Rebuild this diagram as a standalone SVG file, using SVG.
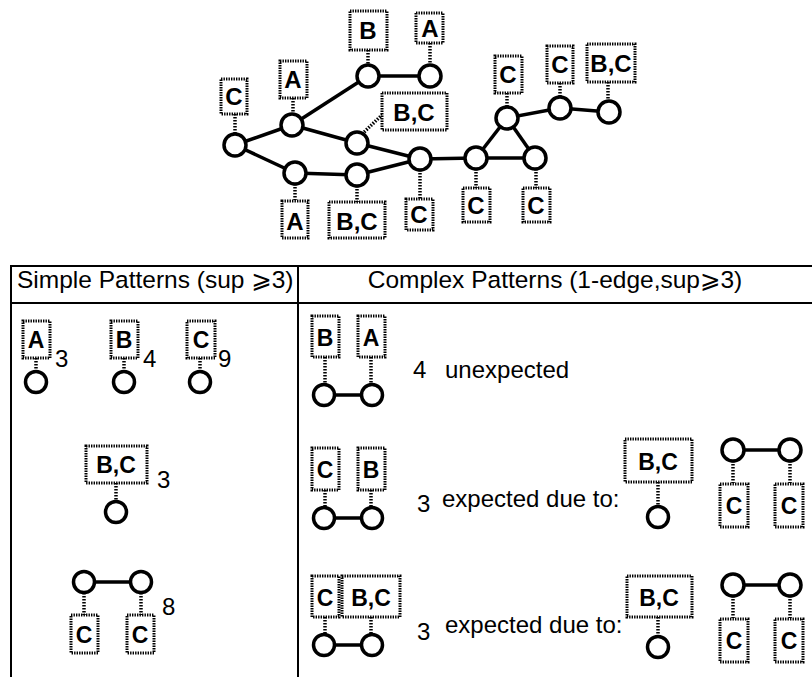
<svg xmlns="http://www.w3.org/2000/svg" width="812" height="677" viewBox="0 0 812 677">
<style>
.n{fill:#fff;stroke:#000;stroke-width:3.5}
.e{stroke:#000;stroke-width:3.5;fill:none}
.lb{fill:#fff;stroke:#000;stroke-width:3;stroke-dasharray:1.4 1.1}
.lk{stroke:#000;stroke-width:3.5;stroke-dasharray:1.5 1.5;fill:none}
.t{font-family:"Liberation Sans",Arial,sans-serif;font-weight:bold;font-size:23px;text-anchor:middle}
.tl{font-family:"Liberation Sans",Arial,sans-serif;font-weight:bold;font-size:24px;text-anchor:middle}
.h{font-family:"Liberation Sans",Arial,"DejaVu Sans",sans-serif;font-size:24.5px}
.b{font-family:"Liberation Sans",Arial,sans-serif;font-size:24px}
.tb{stroke:#000;stroke-width:2;fill:none}
</style>
<rect width="812" height="677" fill="#fff"/>

<!-- table -->
<g id="table">
<path class="tb" d="M11,677 V266 H812 M11,303 H812 M298,266 V677"/>
<text class="h" x="17" y="288">Simple Patterns (sup ⩾3)</text>
<text class="h" x="555" y="288" text-anchor="middle">Complex Patterns (1-edge,sup⩾3)</text>
</g>

<!-- connectors -->
<g id="connectors">
<line class="e" x1="235" y1="145" x2="292" y2="125"/>
<line class="e" x1="235" y1="145" x2="295" y2="173"/>
<line class="e" x1="292" y1="125" x2="368" y2="76"/>
<line class="e" x1="292" y1="125" x2="357" y2="143"/>
<line class="e" x1="368" y1="76" x2="430" y2="76"/>
<line class="e" x1="357" y1="143" x2="420" y2="159"/>
<line class="e" x1="295" y1="173" x2="357" y2="175"/>
<line class="e" x1="357" y1="175" x2="420" y2="159"/>
<line class="e" x1="420" y1="159" x2="476" y2="158"/>
<line class="e" x1="476" y1="158" x2="535" y2="158"/>
<line class="e" x1="476" y1="158" x2="507" y2="118"/>
<line class="e" x1="535" y1="158" x2="507" y2="118"/>
<line class="e" x1="507" y1="118" x2="560" y2="108"/>
<line class="e" x1="560" y1="108" x2="609" y2="112"/>
<!-- dotted links top graph -->
<line class="lk" x1="235" y1="114" x2="235" y2="134"/>
<line class="lk" x1="293" y1="98" x2="293" y2="114"/>
<line class="lk" x1="368" y1="50" x2="368" y2="65"/>
<line class="lk" x1="430" y1="43" x2="430" y2="65"/>
<line class="lk" x1="362" y1="134" x2="383" y2="114"/>
<line class="lk" x1="295" y1="184" x2="295" y2="200"/>
<line class="lk" x1="357" y1="186" x2="357" y2="202"/>
<line class="lk" x1="420" y1="170" x2="420" y2="199"/>
<line class="lk" x1="476" y1="169" x2="476" y2="188"/>
<line class="lk" x1="536" y1="169" x2="536" y2="188"/>
<line class="lk" x1="507" y1="93" x2="507" y2="107"/>
<line class="lk" x1="560" y1="83" x2="560" y2="97"/>
<line class="lk" x1="608" y1="82" x2="608" y2="101"/>
<!-- simple patterns -->
<line class="lk" x1="36" y1="358" x2="36" y2="371"/>
<line class="lk" x1="124" y1="358" x2="124" y2="371"/>
<line class="lk" x1="200" y1="358" x2="200" y2="371"/>
<line class="lk" x1="116" y1="483" x2="116" y2="501"/>
<line class="e" x1="84" y1="582" x2="141" y2="582"/>
<line class="lk" x1="84" y1="593" x2="84" y2="615"/>
<line class="lk" x1="141" y1="593" x2="141" y2="615"/>
<!-- complex row 1 -->
<line class="e" x1="324" y1="395" x2="372" y2="395"/>
<line class="lk" x1="325" y1="357" x2="325" y2="384"/>
<line class="lk" x1="371" y1="357" x2="371" y2="384"/>
<!-- complex row 2 -->
<line class="e" x1="324" y1="518" x2="372" y2="518"/>
<line class="lk" x1="325" y1="490" x2="325" y2="507"/>
<line class="lk" x1="371" y1="490" x2="371" y2="507"/>
<line class="lk" x1="658" y1="482" x2="658" y2="506"/>
<line class="e" x1="733" y1="450" x2="790" y2="450"/>
<line class="lk" x1="733" y1="461" x2="733" y2="483"/>
<line class="lk" x1="790" y1="461" x2="790" y2="483"/>
<!-- complex row 3 -->
<line class="e" x1="324" y1="645" x2="372" y2="645"/>
<line class="lk" x1="325" y1="617" x2="325" y2="634"/>
<line class="lk" x1="371" y1="617" x2="371" y2="634"/>
<line class="lk" x1="658" y1="617" x2="658" y2="636"/>
<line class="e" x1="733" y1="585" x2="790" y2="585"/>
<line class="lk" x1="733" y1="596" x2="733" y2="618"/>
<line class="lk" x1="790" y1="596" x2="790" y2="618"/>
</g>

<!-- top graph nodes -->
<g id="g1"><circle class="n" cx="235" cy="145" r="11"/><rect class="lb" x="221" y="79" width="26" height="35"/><text class="tl" x="234" y="105">C</text></g>
<g id="g2"><circle class="n" cx="292" cy="125" r="11"/><rect class="lb" x="280" y="61" width="27" height="37"/><text class="tl" x="293" y="88">A</text></g>
<g id="g3"><circle class="n" cx="368" cy="76" r="11"/><rect class="lb" x="350" y="11" width="37" height="39"/><text class="tl" x="368" y="39">B</text></g>
<g id="g4"><circle class="n" cx="430" cy="76" r="11"/><rect class="lb" x="416" y="13" width="27" height="30"/><text class="tl" x="430" y="37">A</text></g>
<g id="g5"><circle class="n" cx="357" cy="143" r="11"/><rect class="lb" x="382" y="93" width="65" height="37"/><text class="tl" x="414" y="121">B,C</text></g>
<g id="g6"><circle class="n" cx="295" cy="173" r="11"/><rect class="lb" x="282" y="201" width="26" height="37"/><text class="tl" x="295" y="230">A</text></g>
<g id="g7"><circle class="n" cx="357" cy="175" r="11"/><rect class="lb" x="329" y="202" width="56" height="36"/><text class="tl" x="357" y="230">B,C</text></g>
<g id="g8"><circle class="n" cx="420" cy="159" r="11"/><rect class="lb" x="406" y="199" width="27" height="31"/><text class="tl" x="419" y="223">C</text></g>
<g id="g9"><circle class="n" cx="476" cy="158" r="11"/><rect class="lb" x="463" y="188" width="27" height="34"/><text class="tl" x="476" y="214">C</text></g>
<g id="g10"><circle class="n" cx="535" cy="158" r="11"/><rect class="lb" x="523" y="188" width="27" height="34"/><text class="tl" x="536" y="214">C</text></g>
<g id="g11"><circle class="n" cx="507" cy="118" r="11"/><rect class="lb" x="495" y="56" width="27" height="37"/><text class="tl" x="508" y="83">C</text></g>
<g id="g12"><circle class="n" cx="560" cy="108" r="11"/><rect class="lb" x="547" y="46" width="26" height="37"/><text class="tl" x="560" y="73">C</text></g>
<g id="g13"><circle class="n" cx="609" cy="112" r="11"/><rect class="lb" x="587" y="44" width="48" height="38"/><text class="tl" x="611" y="72">B,C</text></g>

<!-- simple patterns -->
<g id="sA"><circle class="n" cx="36" cy="382" r="10.5"/><rect class="lb" x="23" y="321" width="27" height="37"/><text class="t" x="36" y="348">A</text><text class="b" x="55" y="367">3</text></g>
<g id="sB"><circle class="n" cx="124" cy="382" r="10.5"/><rect class="lb" x="111" y="321" width="27" height="37"/><text class="t" x="124" y="348">B</text><text class="b" x="143" y="367">4</text></g>
<g id="sC"><circle class="n" cx="200" cy="382" r="10.5"/><rect class="lb" x="187" y="321" width="28" height="37"/><text class="t" x="201" y="348">C</text><text class="b" x="218" y="367">9</text></g>
<g id="sBC"><circle class="n" cx="116" cy="512" r="10.5"/><rect class="lb" x="86" y="446" width="61" height="37"/><text class="t" x="116" y="473">B,C</text><text class="b" x="157" y="488">3</text></g>
<g id="sCC"><circle class="n" cx="84" cy="582" r="10.5"/><circle class="n" cx="141" cy="582" r="10.5"/><rect class="lb" x="71" y="615" width="27" height="38"/><text class="t" x="84" y="643">C</text><rect class="lb" x="127" y="615" width="27" height="38"/><text class="t" x="140" y="643">C</text><text class="b" x="162" y="615">8</text></g>

<!-- complex row 1 -->
<g id="c1"><circle class="n" cx="324" cy="395" r="10.5"/><circle class="n" cx="372" cy="395" r="10.5"/><rect class="lb" x="312" y="316" width="27" height="41"/><text class="t" x="325" y="346">B</text><rect class="lb" x="358" y="316" width="27" height="41"/><text class="t" x="371" y="346">A</text><text class="b" x="413" y="378">4</text><text class="b" x="445" y="378">unexpected</text></g>
<!-- complex row 2 -->
<g id="c2"><circle class="n" cx="324" cy="518" r="10.5"/><circle class="n" cx="372" cy="518" r="10.5"/><rect class="lb" x="312" y="448" width="27" height="42"/><text class="t" x="325" y="478">C</text><rect class="lb" x="358" y="448" width="27" height="42"/><text class="t" x="371" y="478">B</text><text class="b" x="417" y="512">3</text><text class="b" x="442" y="507">expected due to:</text></g>
<g id="c2a"><circle class="n" cx="658" cy="517" r="10.5"/><rect class="lb" x="625" y="439" width="67" height="43"/><text class="t" x="658" y="470">B,C</text></g>
<g id="c2b"><circle class="n" cx="733" cy="450" r="11"/><circle class="n" cx="790" cy="450" r="11"/><rect class="lb" x="720" y="484" width="28" height="43"/><text class="t" x="734" y="514">C</text><rect class="lb" x="775" y="484" width="28" height="43"/><text class="t" x="789" y="514">C</text></g>
<!-- complex row 3 -->
<g id="c3"><circle class="n" cx="324" cy="645" r="10.5"/><circle class="n" cx="372" cy="645" r="10.5"/><rect class="lb" x="312" y="576" width="27" height="41"/><text class="t" x="325" y="606">C</text><rect class="lb" x="342" y="576" width="58" height="41"/><text class="t" x="371" y="606">B,C</text><text class="b" x="417" y="640">3</text><text class="b" x="445" y="633">expected due to:</text></g>
<g id="c3a"><circle class="n" cx="658" cy="647" r="10.5"/><rect class="lb" x="627" y="576" width="65" height="41"/><text class="t" x="659" y="606">B,C</text></g>
<g id="c3b"><circle class="n" cx="733" cy="585" r="11"/><circle class="n" cx="790" cy="585" r="11"/><rect class="lb" x="720" y="619" width="28" height="43"/><text class="t" x="734" y="649">C</text><rect class="lb" x="775" y="619" width="28" height="43"/><text class="t" x="789" y="649">C</text></g>
</svg>
